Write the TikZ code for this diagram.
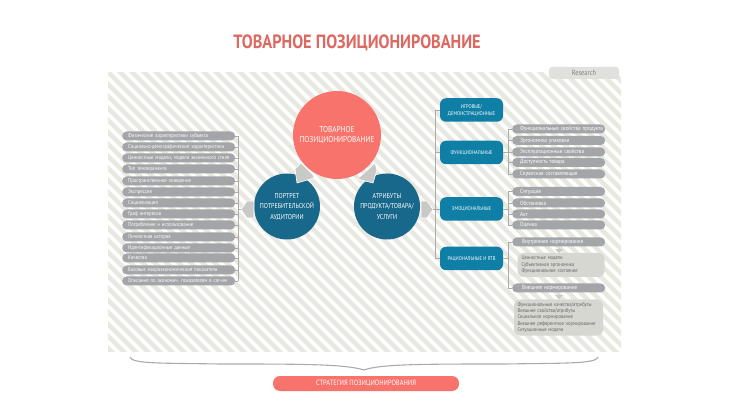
\documentclass[tikz,border=0pt]{standalone}
\usepackage{fontspec}
\setmainfont[FakeStretch=0.85]{PT Sans}
\usetikzlibrary{shapes.arrows}
\definecolor{coral}{HTML}{F7736C}
\definecolor{teal1}{HTML}{0F7FA6}
\definecolor{teal2}{HTML}{17688A}
\definecolor{pillgray}{HTML}{A3A5A8}
\definecolor{boxgray}{HTML}{D6D7D0}
\definecolor{arrowgray}{HTML}{C9CAC8}
\definecolor{stripe}{HTML}{E8E8E1}
\definecolor{linkgray}{HTML}{ABACA8}
\tikzset{
	% pills and boxes of the two side lists
	list item/.style={rectangle,rounded corners=4.5pt,fill=pillgray,text=white,minimum height=9pt,inner sep=0pt,anchor=west,align=left,text width=#1,minimum width=#1},
	group node/.style={rectangle,rounded corners=6pt,fill=teal1,text=white,font=\fontsize{5.4}{7}\selectfont,minimum width=63pt,minimum height=23.5pt,inner sep=0pt,align=center},
	note box/.style={rectangle,rounded corners=6pt,fill=boxgray,text=black!60,font=\fontsize{5.4}{6.4}\selectfont,align=left,inner sep=0pt},
	big circle/.style={circle,fill=#1,text=white,align=center,inner sep=0pt},
	link/.style={draw=linkgray,line width=0.7pt},
	block arrow/.style={fill=arrowgray,draw=white,line width=0.6pt,line join=round},
	small arrow/.style={single arrow,fill=arrowgray,minimum height=6pt,minimum width=8pt,single arrow head extend=1.5pt,inner sep=0pt,rotate=-90}
}
\begin{document}
\begin{tikzpicture}[x=1pt,y=-1pt]
	\useasboundingbox (0,0) rectangle (730,411);
	\fill[white] (0,0) rectangle (730,411);
	% striped panel
	\begin{scope}
		\clip (108,73) rectangle (621,351);
		\foreach \s in {-300,-288,...,640}{
			\draw[stripe,line width=4.4pt] (\s,60) -- (\s+320,380);
		}
	\end{scope}
	\node[font=\bfseries\fontsize{19.2}{21}\selectfont,text=coral!90!black] (title) at (357,43) {ТОВАРНОЕ ПОЗИЦИОНИРОВАНИЕ};
	\node[rectangle,rounded corners=3pt,fill=boxgray!75,text=black!50,font=\fontsize{7.5}{8}\selectfont,minimum width=70pt,minimum height=12pt,inner sep=0pt] (research) at (584,73) {Research};

	% circles
	\node[big circle=coral,minimum size=88pt,font=\fontsize{8.6}{10.5}\selectfont] (goods) at (337,135) {ТОВАРНОЕ\\ПОЗИЦИОНИРОВАНИЕ};
	\node[big circle=teal2,minimum size=66pt,font=\fontsize{7.1}{10.5}\selectfont] (portrait) at (287,206.5) {ПОРТРЕТ\\ПОТРЕБИТЕЛЬСКОЙ\\АУДИТОРИИ};
	\node[big circle=teal2,minimum size=66pt,font=\fontsize{7.1}{10.5}\selectfont] (attrs) at (387,206.5) {АТРИБУТЫ\\ПРОДУКТА/ТОВАРА/\\УСЛУГИ};
	\filldraw[block arrow] (301,163) -- (313,175) -- (314,178) -- (297,183) -- (295,169) -- cycle;
	\filldraw[block arrow] (375,163) -- (362,175) -- (357,179) -- (373,183) -- (377,170) -- cycle;
	\coordinate (lefttip) at (241,209.5);
	\coordinate (righttip) at (433,209.5);
	\filldraw[block arrow] (lefttip) -- (247,201) -- (254,201) -- (254,218) -- (247,218) -- cycle;
	\filldraw[block arrow] (righttip) -- (427,201) -- (421,201) -- (421,218) -- (427,218) -- cycle;

	% left list
	\foreach \y/\t [count=\i] in {
		136/Физические характеристики субъекта,
		147/Социально-демографические характеристики,
		158/Ценностные модели; модели жизненного стиля,
		169/Тип темперамента,
		181/Пространственное поведение,
		192/Экспрессия,
		203/Социализация,
		214/Граф интересов,
		225/Потребление и использование,
		237/Личностная история,
		248/Идентификационные данные,
		258/Качество,
		270/Базовые макроэкономические показатели,
		281/Описание по экономич. показателям в car-им}{
		\node[list item=113pt,font=\fontsize{5.6}{6}\selectfont] (left\i) at (122,\y) {\hspace{6pt}\t};
		\coordinate (leftend\i) at (238,\y);
		\draw[link] (left\i.east) -- (leftend\i);
	}
	\draw[link] (leftend1) -- (leftend14);
	\draw[link] (lefttip) -- (238,209.5);

	% right groups
	\node[group node] (g1) at (471.5,110) {ИГРОВЫЕ/\\ДЕМОНСТРАЦИОННЫЕ};
	\node[group node] (g2) at (471.5,152.5) {ФУНКЦИОНАЛЬНЫЕ};
	\node[group node] (g3) at (471.5,209) {ЭМОЦИОНАЛЬНЫЕ};
	\node[group node] (g4) at (471.5,258.5) {РАЦИОНАЛЬНЫЕ И RTB};
	\coordinate (rtrunk) at (435.5,209.5);
	\draw[link] (righttip) -- (rtrunk);
	\draw[link] (g1.west) -- (435.5,110) -- (435.5,258.5) -- (g4.west);
	\draw[link] (g2.west) -- (435.5,152.5);
	\draw[link] (g3.west) -- (435.5,209);

	% functional items
	\foreach \y/\t [count=\i] in {
		129/Функциональные свойства продукта,
		140.5/Эргономика упаковки/товара,
		152/Эксплуатационные свойства,
		162.5/Доступность товара,
		174/Сервисная составляющая}{
		\node[list item=93pt,font=\fontsize{6}{6.5}\selectfont] (fn\i) at (512,\y) {\hspace{8pt}\t};
	}
	\draw[link] (fn1.west) -- (508,129) -- (508,174) -- (fn5.west);
	\draw[link] (g2.east) -- (508,152.5);
	\draw[link] (fn2.west) -- (508,140.5);
	\draw[link] (fn3.west) -- (508,152);
	\draw[link] (fn4.west) -- (508,162.5);

	% emotional items
	\foreach \y/\t [count=\i] in {
		191.5/Ситуация,
		203/Обстановка,
		214/Акт,
		225/Оценка}{
		\node[list item=93pt,font=\fontsize{6}{6.5}\selectfont] (em\i) at (512,\y) {\hspace{8pt}\t};
	}
	\draw[link] (em1.west) -- (508,191.5) -- (508,225) -- (em4.west);
	\draw[link] (g3.east) -- (508,209);
	\draw[link] (em2.west) -- (508,203);
	\draw[link] (em3.west) -- (508,214);

	% rational items
	\node[list item=93pt,font=\fontsize{6}{6.5}\selectfont] (inner) at (512,242) {\hspace{10pt}Внутреннее нормирование};
	\node[note box,minimum width=87pt,minimum height=24pt,text width=79pt] (innerbox) at (561,265) {Ценностные модели\\Субъективная эргономика\\Функциональное состояние};
	\node[list item=93pt,font=\fontsize{6}{6.5}\selectfont] (outer) at (512,288) {\hspace{10pt}Внешнее нормирование};
	\node[note box,minimum width=89pt,minimum height=36pt,text width=82pt] (outerbox) at (558.5,317.5) {Функциональные качества/атрибуты\\Внешние свойства/атрибуты\\Социальное нормирование\\Внешнее референтное нормирование\\Ситуационные модели};
	\draw[link] (inner.west) -- (508,242) -- (508,288) -- (outer.west);
	\draw[link] (g4.east) -- (508,258.5);
	\node[small arrow] (a5) at (559,250) {};
	\node[small arrow] (a6) at (559,296) {};

	% brace and strategy bar
	\coordinate (braceleft) at (130,357);
	\coordinate (braceright) at (598,357);
	\coordinate (bracetip) at (364,370);
	\draw[linkgray,line width=1.1pt] (braceleft) .. controls (132,364) and (160,363) .. (220,364) .. controls (300,364) and (345,364) .. (bracetip) .. controls (380,364) and (425,364) .. (505,364) .. controls (565,363) and (596,364) .. (braceright);
	\node[rectangle,rounded corners=7pt,fill=coral,text=white,font=\fontsize{7.6}{8}\selectfont,minimum width=186pt,minimum height=15pt,inner sep=0pt] (strategy) at (366,383.5) {СТРАТЕГИЯ ПОЗИЦИОНИРОВАНИЯ};
\end{tikzpicture}
\end{document}
